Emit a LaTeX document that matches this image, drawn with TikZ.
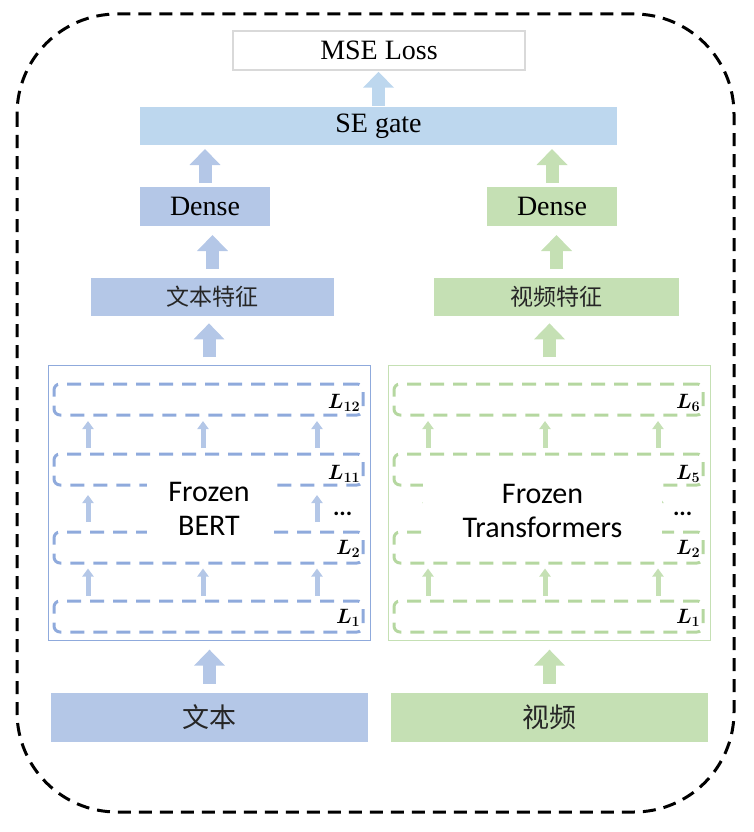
\documentclass[tikz,border=0pt]{standalone}
\usepackage{amsmath}
\usepackage{fontspec}
\setmainfont{Liberation Serif}
\newfontfamily\cjkfont{Noto Sans CJK SC}
\newfontfamily\calfont{Carlito}
\usetikzlibrary{arrows.meta,calc}
\definecolor{bbox}{HTML}{B4C7E7}
\definecolor{gbox}{HTML}{C5E0B4}
\definecolor{sebox}{HTML}{BDD7EE}
\definecolor{bdash}{HTML}{8FAADC}
\definecolor{gdash}{HTML}{B5D7A0}
\definecolor{barr}{HTML}{B4C7E7}
\definecolor{garr}{HTML}{C5E0B4}
\definecolor{gframe}{HTML}{C5E0B4}
\tikzset{
  abox/.style={inner sep=0pt, font=\fontsize{28}{31}\selectfont},
  cbox/.style={inner sep=0pt, text=black!85},
  fat/.style={draw=#1, line width=13pt, -{Triangle[width=30pt,length=16pt]}},
  sm/.style={draw=#1, line width=5pt, -{Triangle[width=11pt,length=8pt]}},
  layerbox/.style={draw=#1, line width=3pt, dash pattern=on 14pt off 9pt, rounded corners=6pt,
    minimum width=309pt, minimum height=31pt, inner sep=0pt},
  lab/.style={anchor=base east, inner sep=0pt, font=\fontsize{21}{24}\selectfont},
  frozen/.style={fill=white, inner sep=0pt, align=center, font=\calfont\fontsize{30}{34}\selectfont},
  frame/.style={draw=#1, line width=1pt, minimum width=322pt, minimum height=275pt, inner sep=0pt}
}
\newcommand{\fatup}[3]{\draw[fat=#1] ($(#2.north)!.5!(#2.north|-#3.south)+(0,17)$) -- ++(0,-34);}
\newcommand{\smallup}[4]{\draw[sm=#1] ($(#2.north)!.5!(#2.north|-#3.south)+(#4,13.5)$) -- ++(0,-27);}
\begin{document}
\begin{tikzpicture}[x=1pt,y=-1pt]
\useasboundingbox (0,0) rectangle (754,832);
% outer dashed frame
\draw[line width=3pt, dash pattern=on 13pt off 8pt, rounded corners=100pt] (17,14) rectangle (734,812);

% top nodes
\node[abox, fill=white, draw=black!15, line width=1.2pt, minimum width=292pt, minimum height=39pt] (mse) at (379,50.5) {MSE Loss};
\node[abox, fill=sebox, minimum width=477pt, minimum height=38pt] (se) at (378.5,126) {SE gate};
\node[abox, fill=bbox, minimum width=130pt, minimum height=39pt] (dl) at (205,206.5) {Dense};
\node[abox, fill=gbox, minimum width=130pt, minimum height=39pt] (dr) at (552,206.5) {Dense};
\node[cbox, fill=bbox, minimum width=243pt, minimum height=38pt, font=\cjkfont\fontsize{23}{26}\selectfont] (fl) at (212.5,297) {文本特征};
\node[cbox, fill=gbox, minimum width=245pt, minimum height=38pt, font=\cjkfont\fontsize{23}{26}\selectfont] (fr) at (556.5,297) {视频特征};

% frames
\node[frame=bdash] (framel) at (209,502.5) {};
\node[frame=gframe] (framer) at (549.5,502.5) {};

% layers left
\node[layerbox=bdash] (bl12) at (208.5,399.5) {};
\node[layerbox=bdash] (bl11) at (208.5,469.5) {};
\node[layerbox=bdash] (bl2) at (208.5,547.5) {};
\node[layerbox=bdash] (bl1) at (208.5,616.5) {};
% layers right
\node[layerbox=gdash] (gl6) at (548.5,399.5) {};
\node[layerbox=gdash] (gl5) at (548.5,469.5) {};
\node[layerbox=gdash] (gl2) at (548.5,547.5) {};
\node[layerbox=gdash] (gl1) at (548.5,616.5) {};

% small arrows left
\foreach \dx in {-120.5,-5.5,108.5}{
  \smallup{barr}{bl11}{bl12}{\dx}
  \smallup{barr}{bl2}{bl11}{\dx}
  \smallup{barr}{bl1}{bl2}{\dx}
}
% small arrows right
\foreach \dx in {-120.5,-3.5,109.5}{
  \smallup{garr}{gl5}{gl6}{\dx}
  \smallup{garr}{gl2}{gl5}{\dx}
  \smallup{garr}{gl1}{gl2}{\dx}
}

% frozen labels
\node[frozen, minimum width=124pt, minimum height=60pt] (fbert) at (209,509) {Frozen\\BERT};
\node[frozen, minimum width=239pt, minimum height=62pt] (ftrans) at (542.5,511) {Frozen\\Transformers};

% layer labels
\node[lab] (tl12) at ($(bl12.south east)+(-4,-8)$) {$\boldsymbol{L}_{\boldsymbol{12}}$};
\node[lab] (tl11) at ($(bl11.south east)+(-4,-7)$) {$\boldsymbol{L}_{\boldsymbol{11}}$};
\node[lab, font=\calfont\bfseries\fontsize{24}{26}\selectfont] (tdl) at ($(bl11.south east)+(-12,29)$) {...};
\node[lab] (tl2) at ($(bl2.south east)+(-4,-10)$) {$\boldsymbol{L}_{\boldsymbol{2}}$};
\node[lab] (tl1) at ($(bl1.south east)+(-4,-10)$) {$\boldsymbol{L}_{\boldsymbol{1}}$};
\node[lab] (tr6) at ($(gl6.south east)+(-4,-8)$) {$\boldsymbol{L}_{\boldsymbol{6}}$};
\node[lab] (tr5) at ($(gl5.south east)+(-4,-7)$) {$\boldsymbol{L}_{\boldsymbol{5}}$};
\node[lab, font=\calfont\bfseries\fontsize{24}{26}\selectfont] (tdr) at ($(gl5.south east)+(-12,29)$) {...};
\node[lab] (tr2) at ($(gl2.south east)+(-4,-10)$) {$\boldsymbol{L}_{\boldsymbol{2}}$};
\node[lab] (tr1) at ($(gl1.south east)+(-4,-10)$) {$\boldsymbol{L}_{\boldsymbol{1}}$};

% inputs
\node[cbox, fill=bbox, minimum width=317pt, minimum height=49pt, font=\cjkfont\fontsize{27}{30}\selectfont] (inl) at (209.5,717.5) {文本};
\node[cbox, fill=gbox, minimum width=317pt, minimum height=49pt, font=\cjkfont\fontsize{27}{30}\selectfont] (inr) at (549.5,717.5) {视频};

% fat arrows
\fatup{sebox}{se}{mse}
\fatup{bbox}{dl}{se}
\fatup{gbox}{dr}{se}
\fatup{bbox}{fl}{dl}
\fatup{gbox}{fr}{dr}
\fatup{bbox}{framel}{fl}
\fatup{gbox}{framer}{fr}
\fatup{bbox}{inl}{framel}
\fatup{gbox}{inr}{framer}
\end{tikzpicture}
\end{document}
